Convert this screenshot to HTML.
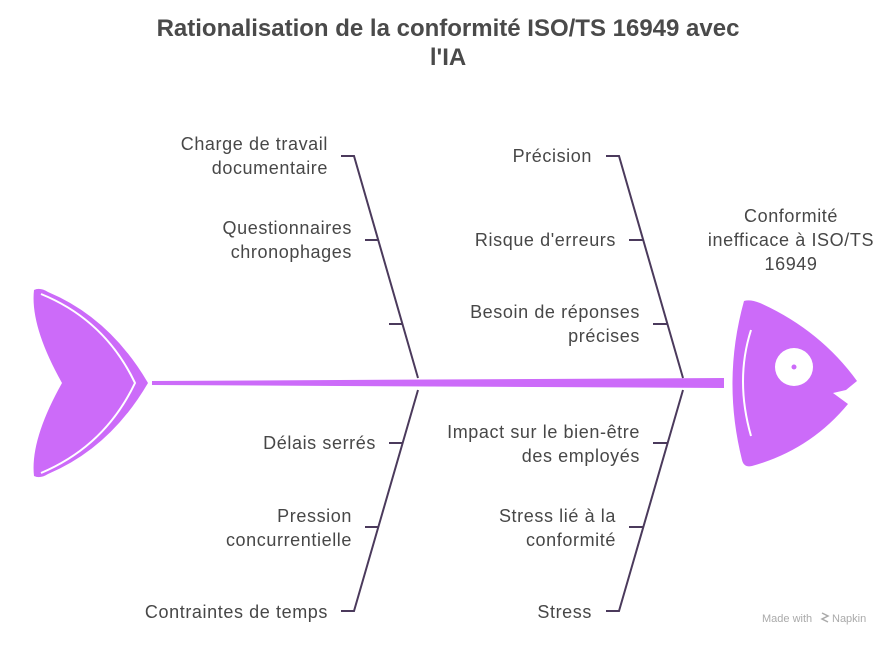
<!DOCTYPE html>
<html><head><meta charset="utf-8"><style>
html,body{margin:0;padding:0;background:#fff;}
svg{display:block;}
text{font-family:"Liberation Sans",sans-serif;}
.l{font-size:18px;fill:#474747;letter-spacing:0.6px;}
</style></head><body>
<svg width="895" height="647" viewBox="0 0 895 647" xmlns="http://www.w3.org/2000/svg">
<text x="448" y="36" text-anchor="middle" font-size="24" font-weight="bold" fill="#4a4a4a">Rationalisation de la conformité ISO/TS 16949 avec</text>
<text x="448" y="65" text-anchor="middle" font-size="24" font-weight="bold" fill="#4a4a4a">l'IA</text>

<path d="M34,290 Q40,287 48,292 Q110,318 148,383 Q110,448 48,474 Q40,479 34,476 Q30,440 62,383 Q30,326 34,290 Z" fill="#cc6bf9"/>
<path d="M41,294 Q105,320 135,383 Q105,446 41,473" fill="none" stroke="#fff" stroke-width="2"/>
<polygon points="152,381 724,378 724,388 152,385" fill="#cc6bf9"/>
<path d="M744,301 Q750,299 760,303 Q820,330 857,381 L846,390 L833,393 L848,404 Q810,450 752,466 Q744,468 742,460 Q722,380 744,301 Z" fill="#cc6bf9"/>
<path d="M751,330 Q735,380 751,436" fill="none" stroke="#fff" stroke-width="2"/>
<circle cx="794" cy="367" r="19" fill="#fff"/>
<circle cx="794" cy="367" r="2.5" fill="#cc6bf9"/>

<g stroke="#4b3a5c" stroke-width="2" fill="none">
<path d="M341,156 H354 L418,378"/>
<path d="M365,240 H378"/>
<path d="M389,324 H402"/>
<path d="M418,390 L354,611 H341"/>
<path d="M389,443 H403"/>
<path d="M365,527 H379"/>
<path d="M606,156 H619 L683,378"/>
<path d="M629,240 H643"/>
<path d="M653,324 H667"/>
<path d="M683,390 L619,611 H606"/>
<path d="M653,443 H667"/>
<path d="M629,527 H643"/>
</g>

<g class="l" text-anchor="end">
<text x="328" y="150">Charge de travail</text>
<text x="328" y="174">documentaire</text>
<text x="352" y="234">Questionnaires</text>
<text x="352" y="258">chronophages</text>
<text x="376" y="449">Délais serrés</text>
<text x="352" y="522">Pression</text>
<text x="352" y="546">concurrentielle</text>
<text x="328" y="618">Contraintes de temps</text>
<text x="592" y="162">Précision</text>
<text x="616" y="246">Risque d'erreurs</text>
<text x="640" y="318">Besoin de réponses</text>
<text x="640" y="342">précises</text>
<text x="640" y="438">Impact sur le bien-être</text>
<text x="640" y="462">des employés</text>
<text x="616" y="522">Stress lié à la</text>
<text x="616" y="546">conformité</text>
<text x="592" y="618">Stress</text>
</g>
<g class="l" text-anchor="middle">
<text x="791" y="222">Conformité</text>
<text x="791" y="246">inefficace à ISO/TS</text>
<text x="791" y="270">16949</text>
</g>
<text x="762" y="622" font-size="11" fill="#aaa">Made with</text>
<path d="M822,613 l6,3 l-6,3 l6,3" stroke="#aaa" stroke-width="1.5" fill="none"/>
<text x="832" y="622" font-size="11" fill="#aaa">Napkin</text>
</svg>
</body></html>
